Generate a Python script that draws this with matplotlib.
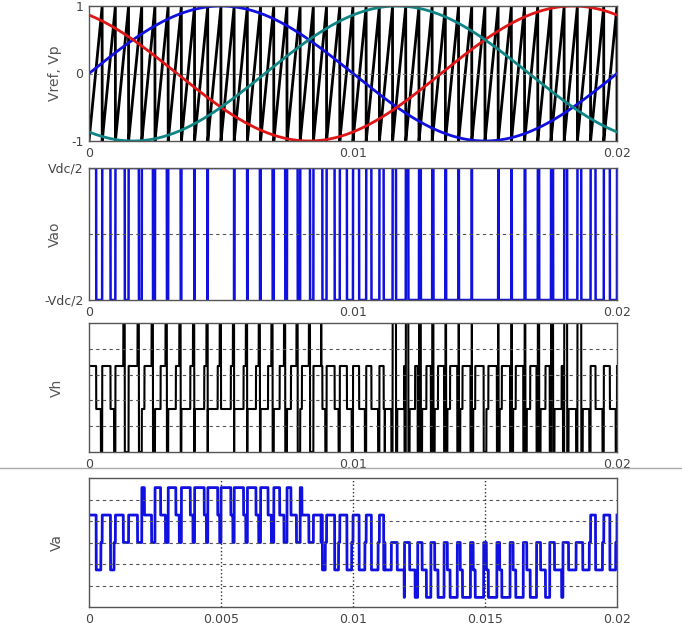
import numpy as np
import matplotlib
matplotlib.use("Agg")
import matplotlib.pyplot as plt
from matplotlib.lines import Line2D

# signal parameters
F_REF = 50.0          # reference frequency (one cycle in 0.02 s)
F_CAR = 2000.0        # sawtooth carrier, 40 periods in 0.02 s
T_END = 0.02
SAMPLES_PER_CARRIER = 200

REF_PHASES_DEG = [0, 120, -120]
REF_COLORS = ["#1010e0", "#e01515", "#108585"]

VDC_HALF = 1.5        # Vao levels in units of one Va step
VH_MAX = 1.5          # Vh levels are +-0.5 and +-1.5
VA_AMPL = 1.83        # Va reference amplitude (Va steps)
VA_THIRD = 0.045      # small third harmonic, flattens the top of Va
VA_LIMIT = 2.35
ZERO_WINDOW = 0.1     # share of a carrier period where Va sits at 0
AGAINST_LEVEL = 0.75

VH_GRID = [-0.9, -0.3, 0.3, 0.9]
XTICKS_TOP = [0, 0.01, 0.02]
XTICK_LABELS_TOP = ["0", "0.01", "0.02"]
XTICKS_VA = [0, 0.005, 0.01, 0.015, 0.02]
XTICK_LABELS_VA = ["0", "0.005", "0.01", "0.015", "0.02"]

# simulation of the PWM stage
dt = 1.0 / (F_CAR * SAMPLES_PER_CARRIER)
t = np.arange(0, T_END + dt / 2, dt)
w = 2 * np.pi * F_REF
refs = [np.sin(w * t + np.deg2rad(p)) for p in REF_PHASES_DEG]
car01 = (t * F_CAR) % 1.0
carrier = 2 * car01 - 1

vao = np.where(refs[0] > carrier, VDC_HALF, -VDC_HALF)

th = w * t
va_ref = VA_AMPL * (np.sin(th) + VA_THIRD * np.sin(3 * th))
base = np.floor(va_ref)
# upper level at the start of each carrier period
va_main = base + ((va_ref - base) > car01)
va = np.where(vao > 0, np.clip(va_main, 1, 2), np.clip(va_main, -2, -1))

ref01 = (refs[0] + 1) / 2
zero_pos = (va_ref > AGAINST_LEVEL) & (car01 > ref01 - ZERO_WINDOW)
zero_neg = (va_ref < -AGAINST_LEVEL) & (car01 < ref01 + ZERO_WINDOW)
zero_end = car01 > 1 - ZERO_WINDOW
va = np.where(zero_pos | zero_neg | zero_end, 0.0, va)
vh = vao - va   # H-bridge voltage, Va = Vao - Vh

plt.rcParams["font.family"] = ["DejaVu Sans"]
fig = plt.figure(figsize=(6.82, 6.25), dpi=100)

W = 682.0
H = 625.0
def add_ax(top, bottom):
    return fig.add_axes([89 / W, 1 - bottom / H, 528 / W, (bottom - top) / H])

ax1 = add_ax(6, 141)
ax2 = add_ax(168, 300)
ax3 = add_ax(323, 452)
ax4 = add_ax(478, 607)

for ax in (ax1, ax2, ax3, ax4):
    ax.set_xlim(0, T_END)
    for s in ax.spines.values():
        s.set_color("#555555")
        s.set_linewidth(1.0)
    ax.tick_params(length=0, labelsize=9, colors="#444444", pad=4)

lab = dict(fontsize=10, color="#555555")

# top: references and carrier
ax1.plot(t, carrier, color="black", lw=2.0)
for r, c in zip(refs, REF_COLORS):
    ax1.plot(t, r, color=c, lw=2)
ax1.axhline(0, color="#777777", ls="--", lw=0.8, dashes=(3, 3))
ax1.set_ylim(-1, 1)
ax1.set_yticks([-1, 0, 1])
ax1.set_yticklabels(["-1", "0", "1"])
ax1.set_xticks(XTICKS_TOP)
ax1.set_xticklabels(XTICK_LABELS_TOP)
ax1.set_ylabel("Vref, Vp", **lab)
ax1.yaxis.set_label_coords(-0.052, 0.5)

# Vao
ax2.plot(t, vao, color="#1010e0", lw=1.8)
ax2.axhline(0, color="#555555", ls="--", lw=0.8, dashes=(3, 3))
ax2.set_ylim(-VDC_HALF, VDC_HALF)
ax2.set_yticks([-VDC_HALF, VDC_HALF])
ax2.set_yticklabels(["-Vdc/2", "Vdc/2"])
ax2.set_xticks(XTICKS_TOP)
ax2.set_xticklabels(XTICK_LABELS_TOP)
ax2.set_ylabel("Vao", **lab)
ax2.yaxis.set_label_coords(-0.052, 0.5)

# Vh
ax3.plot(t, vh, color="black", lw=1.5)
for y in VH_GRID:
    ax3.axhline(y, color="#555555", ls="--", lw=0.8, dashes=(3, 3))
ax3.set_ylim(-VH_MAX, VH_MAX)
ax3.set_yticks([])
ax3.set_xticks(XTICKS_TOP)
ax3.set_xticklabels(XTICK_LABELS_TOP)
ax3.set_ylabel("Vh", **lab)
ax3.yaxis.set_label_coords(-0.047, 0.5)

# Va
ax4.plot(t, va, color="#1010e0", lw=2)
for y in np.linspace(-VA_LIMIT, VA_LIMIT, 7)[1:-1]:
    ax4.axhline(y, color="#555555", ls="--", lw=0.8, dashes=(3, 3))
for x in XTICKS_VA[1:-1]:
    ax4.axvline(x, color="#333333", ls=":", lw=1.0)
ax4.set_ylim(-VA_LIMIT, VA_LIMIT)
ax4.set_yticks([])
ax4.set_xticks(XTICKS_VA)
ax4.set_xticklabels(XTICK_LABELS_VA)
ax4.set_ylabel("Va", **lab)
ax4.yaxis.set_label_coords(-0.047, 0.5)

# separator line across the figure
fig.add_artist(Line2D([0, 1], [1 - 468 / H, 1 - 468 / H], color="#aaaaaa", lw=1))

fig.savefig("out.png", dpi=100)
